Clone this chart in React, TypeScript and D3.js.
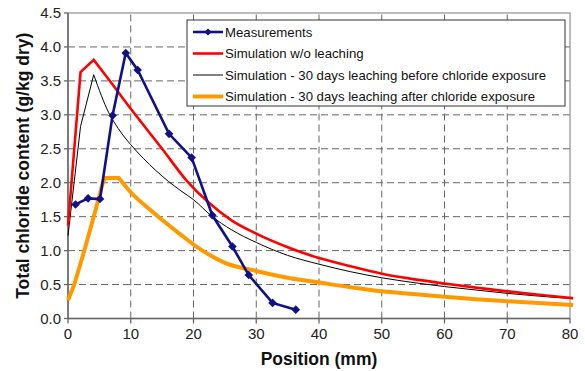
import React from "react";
import * as d3 from "d3";

const xTicks = [0, 10, 20, 30, 40, 50, 60, 70, 80];
const yTicks = [0, 0.5, 1, 1.5, 2, 2.5, 3, 3.5, 4, 4.5];

const measX = [1.2, 3.2, 5.1, 7.1, 9.2, 11.1, 16.1, 19.7, 23.0, 26.2, 28.8, 32.6, 36.3];
const measY = [1.68, 1.77, 1.76, 2.99, 3.91, 3.66, 2.72, 2.37, 1.52, 1.06, 0.64, 0.23, 0.13];

const noLeachX = [0, 2, 4.1, 6.5, 10.5, 15, 19, 22.5, 26, 30, 35, 40, 45, 50, 55, 60, 65, 70, 75, 80.5];
const noLeachY = [1.37, 3.63, 3.81, 3.52, 3.03, 2.5, 2.02, 1.7, 1.45, 1.25, 1.05, 0.89, 0.77, 0.66, 0.58, 0.515, 0.455, 0.4, 0.35, 0.3];

const beforeX = [0, 2, 4.1, 6.5, 8, 10, 12, 14, 16, 18, 20, 23, 26, 30, 35, 40, 45, 50, 55, 60, 65, 70, 75, 80.5];
const beforeY = [1.22, 2.83, 3.59, 3.03, 2.8, 2.56, 2.36, 2.18, 2.02, 1.88, 1.75, 1.5, 1.31, 1.12, 0.93, 0.8, 0.69, 0.6, 0.53, 0.47, 0.42, 0.37, 0.33, 0.29];

const afterX = [0, 1, 2.6, 4.1, 5.5, 5.9, 8.1, 10, 13.5, 17.9, 20, 22.5, 25, 30, 35, 40, 45, 50, 55, 60, 65, 70, 75, 80.5];
const afterY = [0.27, 0.5, 1.0, 1.5, 1.98, 2.07, 2.07, 1.86, 1.57, 1.24, 1.09, 0.94, 0.82, 0.7, 0.6, 0.53, 0.46, 0.4, 0.36, 0.32, 0.285, 0.255, 0.23, 0.2];

const legendLabels = [
  "Measurements",
  "Simulation w/o leaching",
  "Simulation - 30 days leaching before chloride exposure",
  "Simulation - 30 days leaching after chloride exposure",
];

const FONT = "'Liberation Sans', Arial, Helvetica, sans-serif";
const BLUE = "#10108a";
const RED = "#ff0000";
const ORANGE = "#ff9900";

type P = [number, number];
const zip = (xs: number[], ys: number[]): P[] => xs.map((x, i) => [x, ys[i]]);

function diamond(cx: number, cy: number, r = 4.3) {
  return `M${cx},${cy - r}L${cx + r},${cy}L${cx},${cy + r}L${cx - r},${cy}Z`;
}

export default function App() {
  const W = 585;
  const H = 371;
  const x = d3.scaleLinear().domain([0, 80]).range([68, 570]);
  const y = d3.scaleLinear().domain([0, 4.5]).range([318.5, 13]);

  const smooth = d3
    .line<P>()
    .x((d) => x(d[0]))
    .y((d) => y(d[1]))
    .curve(d3.curveMonotoneX);
  const straight = d3
    .line<P>()
    .x((d) => x(d[0]))
    .y((d) => y(d[1]));

  // linear head (sharp corners) followed by a smooth tail
  const mixed = (pts: P[], split: number) => {
    const head = straight(pts.slice(0, split + 1)) || "";
    const tail = (smooth(pts.slice(split)) || "").replace(/^M/, "L");
    return head + tail;
  };

  const meas = zip(measX, measY);
  const [x0, x1] = x.range();
  const [y0, y1] = y.range();

  const legX = 187;
  const legY = 20;
  const legW = 378;
  const legH = 86;
  const rowY = [32, 53.5, 75, 96.5];
  const sampleX0 = 193;
  const sampleX1 = 223;

  return (
    <svg
      width={W}
      height={H}
      style={{ position: "absolute", left: 0, top: 0, background: "#fff" }}
      fontFamily={FONT}
    >
      <rect x={0} y={0} width={W} height={H} fill="#fff" />
      {/* grid */}
      <g stroke="#666" strokeWidth={1} strokeDasharray="7,4">
        {xTicks.slice(1, -1).map((t) => (
          <line key={"gx" + t} x1={x(t)} x2={x(t)} y1={y0} y2={y1} />
        ))}
        {yTicks.slice(1, -1).map((t) => (
          <line key={"gy" + t} x1={x0} x2={x1} y1={y(t)} y2={y(t)} />
        ))}
      </g>
      {/* frame */}
      <rect x={x0} y={y1} width={x1 - x0} height={y0 - y1} fill="none" stroke="#999" strokeWidth={1.3} />
      <line x1={x0} x2={x0} y1={y0} y2={y1} stroke="#666" strokeWidth={1.5} />
      <line x1={x0} x2={x1} y1={y0} y2={y0} stroke="#666" strokeWidth={1.5} />
      {/* ticks */}
      <g stroke="#666" strokeWidth={1.3}>
        {yTicks.map((t) => (
          <line key={"ty" + t} x1={x0 - 4} x2={x0} y1={y(t)} y2={y(t)} />
        ))}
        {xTicks.map((t) => (
          <line key={"tx" + t} x1={x(t)} x2={x(t)} y1={y0} y2={y0 + 5} />
        ))}
      </g>
      {/* tick labels */}
      <g fontSize={15} fill="#222">
        {yTicks.map((t) => (
          <text key={"ly" + t} x={61} y={y(t)} dy="0.36em" textAnchor="end">
            {d3.format(".1f")(t)}
          </text>
        ))}
        {xTicks.map((t) => (
          <text key={"lx" + t} x={x(t)} y={338.5} textAnchor="middle">
            {t}
          </text>
        ))}
      </g>
      {/* axis titles */}
      <text x={(x0 + x1) / 2} y={365} textAnchor="middle" fontSize={17.5} fontWeight="bold" fill="#111">
        Position (mm)
      </text>
      <text
        transform={`translate(29,${(y0 + y1) / 2}) rotate(-90)`}
        textAnchor="middle"
        fontSize={17.5}
        fontWeight="bold"
        fill="#111"
      >
        Total chloride content (g/kg dry)
      </text>
      {/* series */}
      <path d={mixed(zip(beforeX, beforeY), 2)} fill="none" stroke="#000" strokeWidth={1} strokeLinejoin="miter" />
      <path d={mixed(zip(noLeachX, noLeachY), 2)} fill="none" stroke={RED} strokeWidth={2.6} />
      <path d={mixed(zip(afterX, afterY), 6)} fill="none" stroke={ORANGE} strokeWidth={4} />
      <path d={straight(meas) || ""} fill="none" stroke={BLUE} strokeWidth={2.6} />
      {meas.map((d, i) => (
        <path key={"m" + i} d={diamond(x(d[0]), y(d[1]))} fill={BLUE} />
      ))}
      {/* legend */}
      <rect x={legX} y={legY} width={legW} height={legH} fill="#fff" stroke="#333" strokeWidth={1} />
      <line x1={sampleX0} x2={sampleX1} y1={rowY[0]} y2={rowY[0]} stroke={BLUE} strokeWidth={2.6} />
      <path d={diamond((sampleX0 + sampleX1) / 2, rowY[0], 3.6)} fill={BLUE} />
      <line x1={sampleX0} x2={sampleX1} y1={rowY[1]} y2={rowY[1]} stroke={RED} strokeWidth={2.6} />
      <line x1={sampleX0} x2={sampleX1} y1={rowY[2]} y2={rowY[2]} stroke="#000" strokeWidth={1} />
      <line x1={sampleX0} x2={sampleX1} y1={rowY[3]} y2={rowY[3]} stroke={ORANGE} strokeWidth={4} />
      <g fontSize={13.2} fill="#111">
        {legendLabels.map((l, i) => (
          <text key={l} x={225} y={rowY[i]} dy="0.36em">
            {l}
          </text>
        ))}
      </g>
    </svg>
  );
}
